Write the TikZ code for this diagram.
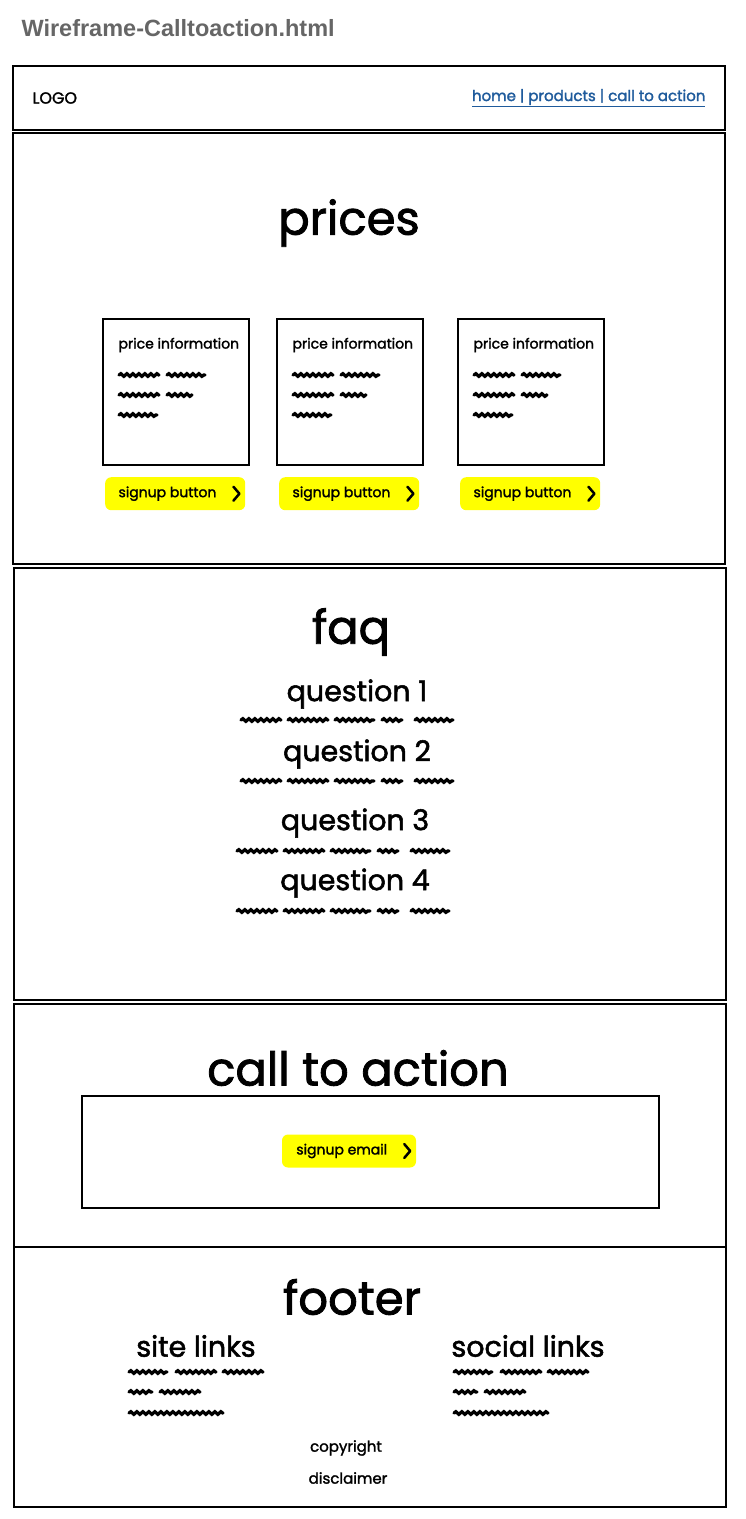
\documentclass[tikz,border=0pt]{standalone}
\usepackage{fontspec}
\setmainfont{Poppins}[FakeBold=1.8]
\newfontfamily\titlefont{Liberation Sans}
\usetikzlibrary{decorations.pathmorphing}

\definecolor{linkblue}{HTML}{1F5B9C}
\definecolor{btnyellow}{HTML}{FFFF00}
\definecolor{titlegray}{HTML}{666666}

\tikzset{
  panel/.style={draw,line width=2.6pt,minimum width=712pt,inner sep=0pt},
  card/.style={draw,line width=2.3pt,minimum width=146pt,minimum height=146pt,inner sep=0pt},
  btn/.style={fill=btnyellow,rounded corners=6pt,minimum height=33pt,inner sep=0pt},
  scrib/.style={line width=3.3pt,line cap=round,decorate,decoration={snake,segment length=6pt,amplitude=1.3pt}},
  chev/.style={line width=2.5pt,line cap=round,line join=round},
  bigtitle/.style={font=\fontsize{46.5}{52}\selectfont},
  subtitle/.style={font=\fontsize{28.5}{32}\selectfont},
  smalltext/.style={font=\fontsize{14}{17}\selectfont},
}

\begin{document}
\begin{tikzpicture}[x=1pt,y=-1pt]
\useasboundingbox (0,0) rectangle (746,1519);

\node[anchor=west,text=titlegray,font=\titlefont\bfseries\fontsize{23.5}{27}\selectfont] (pagename) at (18,28) {Wireframe-Calltoaction.html};

% header
\node[panel,minimum height=64pt] (header) at (369,98) {};
\node[anchor=west,font=\fontsize{16}{18}\selectfont] (logo) at (29,98) {LOGO};
\node[anchor=east,text=linkblue,font=\fontsize{15}{18}\selectfont] (nav) at (709,98) {\underline{home | products | call to action}};

% prices
\node[panel,minimum height=431pt] (prices) at (369,348.5) {};
\node[bigtitle] (pricestitle) at (349,223) {prices};
\foreach \cx/\nm in {102/a,276/b,457/c}{
  \node[card,anchor=north west] (card-\nm) at (\cx,318) {};
  \node[smalltext,anchor=west] (info-\nm) at (\cx+13,345) {price information};
  \foreach \sx/\sy/\len in {17/57/40, 65/57/38, 17/77/40, 65/77/25, 17/97/38}
    \draw[scrib] (\cx+\sx,318+\sy) -- ++(\len,0);
  \node[btn,minimum width=140pt,anchor=north west] (btn-\nm) at (\cx+3,477) {};
  \node[smalltext,anchor=west] (btntext-\nm) at ([xshift=10pt]btn-\nm.west) {signup button};
  \draw[chev] ([xshift=-12pt,yshift=7pt]btn-\nm.east) -- ++(6,7) -- ++(-6,7);
}

% faq
\node[panel,minimum height=432pt] (faq) at (370,784) {};
\node[bigtitle] (faqtitle) at (351,632) {faq};
\node[subtitle] (q1) at (357,694) {question 1};
\node[subtitle] (q2) at (357,754) {question 2};
\node[subtitle] (q3) at (355,823) {question 3};
\node[subtitle] (q4) at (355,883) {question 4};
\foreach \qx/\qy in {241/720, 241/781, 237/851, 237/911}{
  \foreach \sx/\len in {0/40, 47/40, 94/39, 141/20, 174/38}
    \draw[scrib] (\qx+\sx,\qy) -- ++(\len,0);
}

% call to action
\node[panel,minimum height=243pt] (cta) at (370,1125.5) {};
\node[bigtitle] (ctatitle) at (358,1068) {call to action};
\node[draw,line width=2.3pt,minimum width=577pt,minimum height=112pt] (ctabox) at (370.5,1152) {};
\node[btn,minimum width=134pt] (btn-email) at (349,1151) {};
\node[smalltext,anchor=west] (btntext-email) at ([xshift=11pt]btn-email.west) {signup email};
\draw[chev] ([xshift=-12pt,yshift=7pt]btn-email.east) -- ++(6,7) -- ++(-6,7);

% footer
\node[panel,minimum height=260pt] (footer) at (370,1377) {};
\node[bigtitle] (footertitle) at (352,1297) {footer};
\node[subtitle] (sitelinks) at (196,1346) {site links};
\node[subtitle] (sociallinks) at (528,1346) {social links};
\foreach \fx in {129,454}{
  \foreach \sx/\sy/\len in {0/1372/38, 47/1372/40, 94/1372/40, 0/1392/23, 31/1392/40, 0/1413/94}
    \draw[scrib] (\fx+\sx,\sy) -- ++(\len,0);
}
\node[font=\fontsize{15}{18}\selectfont] (copyright) at (346,1448) {copyright};
\node[font=\fontsize{15}{18}\selectfont] (disclaimer) at (348,1478) {disclaimer};

\end{tikzpicture}
\end{document}
